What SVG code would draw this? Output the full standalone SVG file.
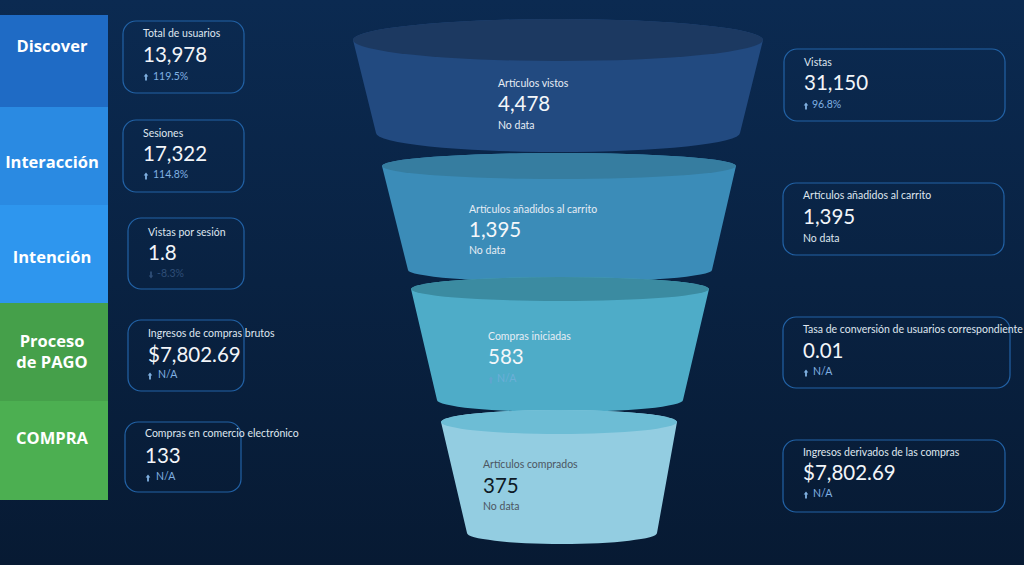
<svg xmlns="http://www.w3.org/2000/svg" xmlns:xlink="http://www.w3.org/1999/xlink" width="1024" height="565" viewBox="0 0 1024 565">
<defs>
<linearGradient id="bg" x1="0" y1="0" x2="0" y2="1">
<stop offset="0" stop-color="#0b2a51"/>
<stop offset="1" stop-color="#071a33"/>
</linearGradient>
<path id="up" d="M0,-3.6 L2.3,-0.6 L0.9,-0.6 L0.9,3.6 L-0.9,3.6 L-0.9,-0.6 L-2.3,-0.6 Z"/>
<path id="down" d="M0,3.6 L2.3,0.6 L0.9,0.6 L0.9,-3.6 L-0.9,-3.6 L-0.9,0.6 L-2.3,0.6 Z"/>
</defs>
<style>
.stage{font-family:"Open Sans","Noto Sans",sans-serif;font-weight:700;font-size:16.5px;fill:#ffffff;text-anchor:middle}
.card{fill:none;stroke:#2262a6;stroke-width:1.2}
.t{font-family:Lato,"Liberation Sans",sans-serif;font-size:10.5px;fill:#dfe6ef}
.v{font-family:Lato,"Liberation Sans",sans-serif;font-size:20.5px;fill:#f2f5f9}
.d{font-family:Lato,"Liberation Sans",sans-serif;font-size:10.5px;fill:#80b1e2}
.ai{fill:#80b1e2}
.fade{fill:#2f4e77}
.ft{font-family:Lato,"Liberation Sans",sans-serif;font-size:10.5px;fill:#e6edf5}
.fv{font-family:Lato,"Liberation Sans",sans-serif;font-size:20.5px;fill:#f4f7fa}
.dk{fill:#4c5661}
.dv{fill:#0e1a26}
</style>
<rect x="0" y="0" width="1024" height="565" fill="url(#bg)"/>

<g id="stage-discover">
<rect x="0" y="15" width="108" height="92" fill="#1f6bc5"/>
<text class="stage" x="52" y="52">Discover</text>
</g>
<g id="stage-interaccion">
<rect x="0" y="107" width="108" height="98" fill="#2a8ae2"/>
<text class="stage" x="52" y="168">Interacción</text>
</g>
<g id="stage-intencion">
<rect x="0" y="205" width="108" height="98" fill="#2e96ee"/>
<text class="stage" x="52" y="263">Intención</text>
</g>
<g id="stage-pago">
<rect x="0" y="303" width="108" height="98" fill="#45a04a"/>
<text class="stage" x="52" y="347">Proceso</text>
<text class="stage" x="52" y="368">de PAGO</text>
</g>
<g id="stage-compra">
<rect x="0" y="401" width="108" height="99" fill="#4caf51"/>
<text class="stage" x="52" y="444">COMPRA</text>
</g>

<g id="card-usuarios">
<rect class="card" x="123" y="21" width="121" height="72" rx="13"/>
<text class="t" x="143" y="37">Total de usuarios</text>
<text class="v" x="143" y="62">13,978</text>
<use href="#up" x="146" y="77" class="ai"/>
<text class="d" x="153" y="80">119.5%</text>
</g>
<g id="card-sesiones">
<rect class="card" x="123" y="120" width="121" height="72" rx="13"/>
<text class="t" x="143" y="137">Sesiones</text>
<text class="v" x="143" y="161">17,322</text>
<use href="#up" x="146" y="176" class="ai"/>
<text class="d" x="153" y="178">114.8%</text>
</g>
<g id="card-vistas-sesion">
<rect class="card" x="128" y="218" width="116" height="71" rx="13"/>
<text class="t" x="148" y="236">Vistas por sesión</text>
<text class="v" x="148" y="260">1.8</text>
<use href="#down" x="151" y="275" class="fade"/>
<text class="d fade" x="157" y="277">-8.3%</text>
</g>
<g id="card-ingresos-brutos">
<rect class="card" x="128" y="320" width="116" height="71" rx="13"/>
<text class="t" x="148" y="337">Ingresos de compras brutos</text>
<text class="v" x="148" y="362">$7,802.69</text>
<use href="#up" x="150" y="376" class="ai"/>
<text class="d" x="158" y="378">N/A</text>
</g>
<g id="card-compras-ecommerce">
<rect class="card" x="125" y="422" width="116" height="70" rx="13"/>
<text class="t" x="145" y="437">Compras en comercio electrónico</text>
<text class="v" x="145" y="463">133</text>
<use href="#up" x="148" y="478" class="ai"/>
<text class="d" x="156" y="480">N/A</text>
</g>

<g id="funnel-vistos">
<path d="M353,40 L376,133 A182,19 0 0 0 740,133 L763,40 A205,21 0 0 0 353,40 Z" fill="#224a80"/>
<ellipse cx="558" cy="40" rx="205" ry="21" fill="#1c3961"/>
<text class="ft" x="498" y="87">Artículos vistos</text>
<text class="fv" x="498" y="111">4,478</text>
<text class="ft" x="498" y="129">No data</text>
</g>
<g id="funnel-carrito">
<path d="M382,166 L408,270 A152,12 0 0 0 712,270 L736,166 A177,13 0 0 0 382,166 Z" fill="#3b8cb8"/>
<ellipse cx="559" cy="166" rx="177" ry="13" fill="#367da0"/>
<text class="ft" x="469" y="213">Artículos añadidos al carrito</text>
<text class="fv" x="469" y="237">1,395</text>
<text class="ft" x="469" y="254">No data</text>
</g>
<g id="funnel-iniciadas">
<path d="M411,289 L437,400 A123,12 0 0 0 683,400 L709,289 A149,12 0 0 0 411,289 Z" fill="#4eacc8"/>
<ellipse cx="560" cy="289" rx="149" ry="12" fill="#3b8ba1"/>
<text class="ft" x="488" y="340">Compras iniciadas</text>
<text class="fv" x="488" y="364">583</text>
<use href="#up" x="491" y="380" fill="#6f9fd2" opacity="0.6"/>
<text class="d" x="497" y="382" fill="#6f9fd2" opacity="0.6">N/A</text>
</g>
<g id="funnel-comprados">
<path d="M441,422 L467,533 A95,11 0 0 0 657,533 L677,422 A118,12 0 0 0 441,422 Z" fill="#93cde1"/>
<ellipse cx="559" cy="422" rx="118" ry="12" fill="#6dbdd5"/>
<text class="ft dk" x="483" y="468">Artículos comprados</text>
<text class="fv dv" x="483" y="493">375</text>
<text class="ft dk" x="483" y="510">No data</text>
</g>

<g id="card-vistas">
<rect class="card" x="784" y="49" width="221" height="72" rx="13"/>
<text class="t" x="804" y="66">Vistas</text>
<text class="v" x="804" y="90">31,150</text>
<use href="#up" x="806" y="106" class="ai"/>
<text class="d" x="812" y="108">96.8%</text>
</g>
<g id="card-carrito">
<rect class="card" x="783" y="183" width="221" height="72" rx="13"/>
<text class="t" x="803" y="199">Artículos añadidos al carrito</text>
<text class="v" x="803" y="224">1,395</text>
<text class="t" x="803" y="242">No data</text>
</g>
<g id="card-conversion">
<rect class="card" x="783" y="317" width="227" height="71" rx="13"/>
<text class="t" x="803" y="333">Tasa de conversión de usuarios correspondiente</text>
<text class="v" x="803" y="358">0.01</text>
<use href="#up" x="806" y="373" class="ai"/>
<text class="d" x="813" y="375">N/A</text>
</g>
<g id="card-ingresos-derivados">
<rect class="card" x="783" y="440" width="222" height="72" rx="13"/>
<text class="t" x="803" y="456">Ingresos derivados de las compras</text>
<text class="v" x="803" y="480">$7,802.69</text>
<use href="#up" x="806" y="495" class="ai"/>
<text class="d" x="813" y="497">N/A</text>
</g>
<g id="connectors"/>
</svg>
